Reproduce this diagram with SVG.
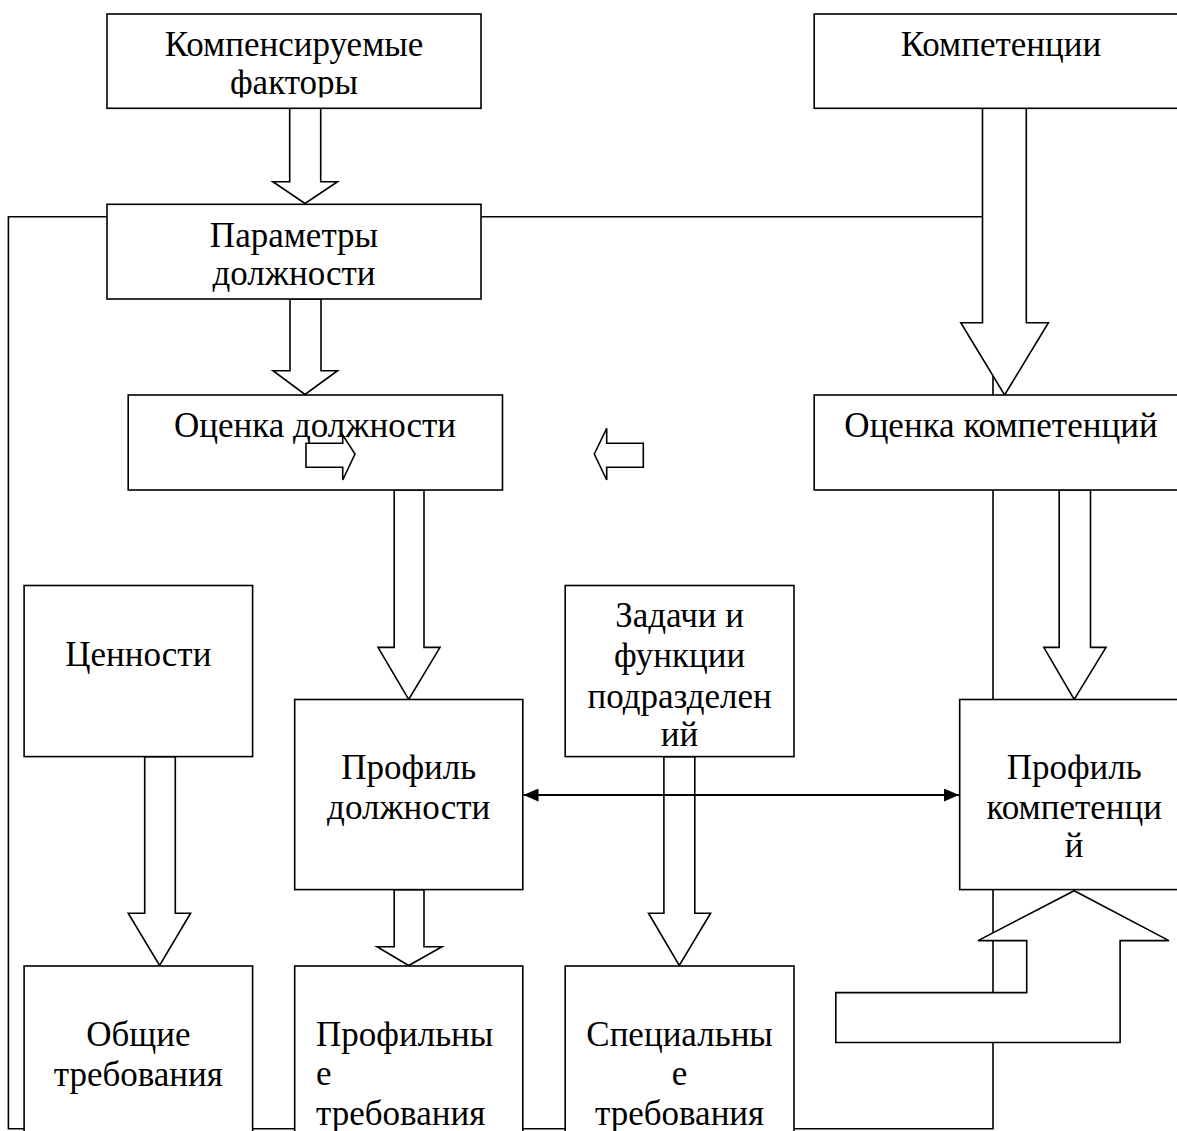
<svg xmlns="http://www.w3.org/2000/svg" width="1177" height="1131" viewBox="0 0 1177 1131">
<style>
.bx{fill:#fff;stroke:#000;stroke-width:1.6}
.ar{fill:#fff;stroke:#000;stroke-width:1.6;stroke-linejoin:miter}
.ln{fill:none;stroke:#000;stroke-width:1.6}
.t{font-family:"Liberation Serif","Times New Roman",serif;font-size:35px;fill:#000}
.c{text-anchor:middle}
</style>
<defs>
<marker id="ah" viewBox="0 0 15 13" refX="15" refY="6.5" markerWidth="15" markerHeight="13" markerUnits="userSpaceOnUse" orient="auto-start-reverse">
<path d="M0,0 L15,6.5 L0,13 z" fill="#000"/>
</marker>
<clipPath id="clipA"><rect x="107" y="14" width="374" height="83.5"/></clipPath>
</defs>
<rect width="1177" height="1131" fill="#fff"/>
<g id="connectors">
<polyline class="ln" points="107,216.7 8.4,216.7 8.4,1128.8 993,1128.8 993,216.7 481,216.7"/>
<polygon class="ar" points="289.7,108.3 320.7,108.3 320.7,181.7 337.5,181.7 305,203.5 272.9,181.7 289.7,181.7"/>
<polygon class="ar" points="290,299 321,299 321,370.7 337.5,370.7 305,394.5 273,370.7 290,370.7"/>
<polygon class="ar" points="982.5,108.3 1026.3,108.3 1026.3,322.7 1048.4,322.7 1004.6,395 960.8,322.7 982.5,322.7"/>
<polygon class="ar" points="394.2,490 424,490 424,647.4 440,647.4 408.7,699.5 378,647.4 394.2,647.4"/>
<polygon class="ar" points="1059.2,490 1090.5,490 1090.5,647.4 1106,647.4 1074.2,699.5 1043.8,647.4 1059.2,647.4"/>
<polygon class="ar" points="144.7,756.6 175.3,756.6 175.3,913.2 190.6,913.2 159.6,965.5 128.2,913.2 144.7,913.2"/>
<polygon class="ar" points="394.2,889.6 424,889.6 424,946.7 442,946.7 408.7,965.5 377,946.7 394.2,946.7"/>
<polygon class="ar" points="663.9,756.6 694.8,756.6 694.8,913.2 710.6,913.2 679.3,965.5 648.5,913.2 663.9,913.2"/>
<polygon class="ar" points="835.8,992.6 1026.7,992.6 1026.7,940.6 978,940.6 1074.2,890.7 1168.9,940.6 1120.1,940.6 1120.1,1042.5 835.8,1042.5"/>
</g>
<g id="n-kompensiruemye">
<rect class="bx" x="107" y="14" width="374" height="94.3"/>
<g clip-path="url(#clipA)">
<text class="t c" x="294" y="56">Компенсируемые</text>
<text class="t c" x="294" y="94">факторы</text>
</g>
</g>
<g id="n-kompetencii">
<rect class="bx" x="814.2" y="14" width="374" height="94.3"/>
<text class="t c" x="1001" y="56">Компетенции</text>
</g>
<g id="n-parametry">
<rect class="bx" x="107" y="204.3" width="374" height="94.7"/>
<text class="t c" x="294" y="246.5">Параметры</text>
<text class="t c" x="294" y="285">должности</text>
</g>
<g id="n-ocenka-dolzh">
<rect class="bx" x="128.2" y="395" width="374.3" height="95"/>
<text class="t c" x="315" y="436.5">Оценка должности</text>
</g>
<g id="n-ocenka-komp">
<rect class="bx" x="814.2" y="395" width="374" height="95"/>
<text class="t c" x="1001" y="436.5">Оценка компетенций</text>
</g>
<g id="n-cennosti">
<rect class="bx" x="24.1" y="585.5" width="228.5" height="171.1"/>
<text class="t c" x="138.3" y="665.5">Ценности</text>
</g>
<g id="n-zadachi">
<rect class="bx" x="565.2" y="585.5" width="228.8" height="171.1"/>
<text class="t c" x="679.6" y="627.4">Задачи и</text>
<text class="t c" x="679.6" y="667.4">функции</text>
<text class="t c" x="679.6" y="707.5">подразделен</text>
<text class="t c" x="679.6" y="746">ий</text>
</g>
<g id="n-profil-dolzh">
<rect class="bx" x="294.7" y="699.5" width="228.1" height="190.1"/>
<text class="t c" x="408.7" y="778.5">Профиль</text>
<text class="t c" x="408.7" y="818.6">должности</text>
</g>
<g id="n-profil-komp">
<rect class="bx" x="959.7" y="699.5" width="229" height="190.1"/>
<text class="t c" x="1074.2" y="778.5">Профиль</text>
<text class="t c" x="1074.2" y="818.6">компетенци</text>
<text class="t c" x="1074.2" y="857">й</text>
</g>
<g id="n-obshchie">
<rect class="bx" x="24.1" y="966" width="228.5" height="180"/>
<text class="t c" x="138.3" y="1046">Общие</text>
<text class="t c" x="138.3" y="1086">требования</text>
</g>
<g id="n-profilnye">
<rect class="bx" x="294.7" y="966" width="228.1" height="180"/>
<text class="t" x="316" y="1046">Профильны</text>
<text class="t" x="316" y="1085">е</text>
<text class="t" x="316" y="1124.5">требования</text>
</g>
<g id="n-specialnye">
<rect class="bx" x="565.2" y="966" width="228.8" height="180"/>
<text class="t c" x="679.6" y="1046">Специальны</text>
<text class="t c" x="679.6" y="1085">е</text>
<text class="t c" x="679.6" y="1124.5">требования</text>
</g>
<g id="connectors-top">
<polygon class="ar" points="306,443.3 342.7,443.3 342.7,435 355,454 342.7,480 342.7,467.3 306,467.3"/>
<polygon class="ar" points="594.3,454 606.7,428.3 606.7,443.3 643.3,443.3 643.3,467.3 606.7,467.3 606.7,480"/>
<line x1="523.5" y1="795" x2="959" y2="795" stroke="#000" stroke-width="2" marker-start="url(#ah)" marker-end="url(#ah)"/>
</g>
</svg>
